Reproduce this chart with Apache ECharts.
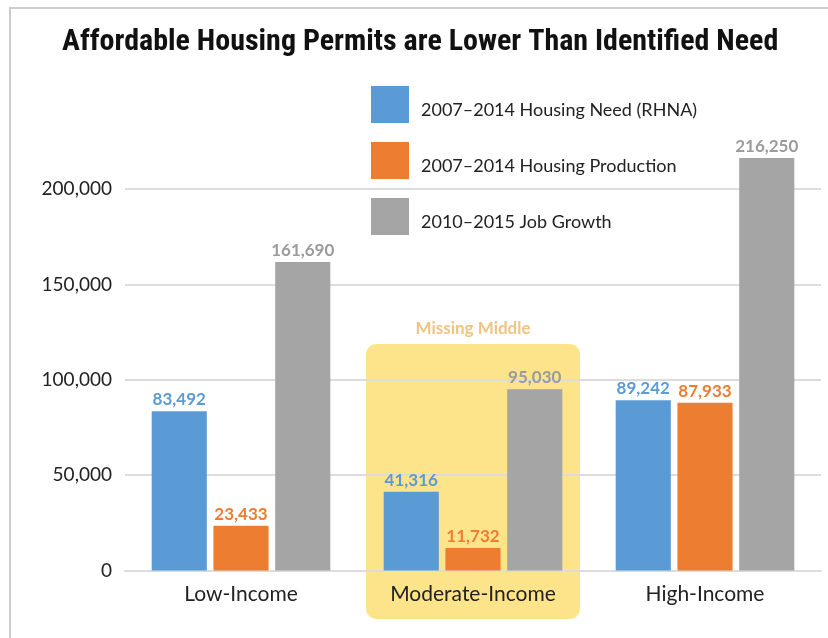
<!DOCTYPE html>
<html>
<head>
<meta charset="utf-8">
<script src="https://cdn.jsdelivr.net/npm/echarts@6/dist/echarts.min.js"></script>
<style>
  html, body { margin: 0; padding: 0; background: #fff; }
  #chart { width: 828px; height: 638px; }
</style>
</head>
<body>
<div id="chart"></div>
<script>
// ── data ──
const categories = ['Low-Income', 'Moderate-Income', 'High-Income']
const seriesNames = ['2007–2014 Housing Need (RHNA)', '2007–2014 Housing Production', '2010–2015 Job Growth']
const housingNeed = [83492, 41316, 89242]
const housingProduction = [23433, 11732, 87933]
const jobGrowth = [161690, 95030, 216250]
const yTicks = [0, 50000, 100000, 150000, 200000]

const colors = ['#5b9bd5', '#ed7d31', '#a5a5a5']
const labelColors = ['#5b9bd5', '#ed7d31', '#9b9b9b']
const font = 'Lato, "Open Sans", sans-serif'

const fmt = (v) => v.toLocaleString('en-US')

const chart = echarts.init(document.getElementById('chart'))

function barSeries(name, data, i) {
  return {
    type: 'bar',
    name,
    data,
    clip: false,
    barGap: '12%',
    barCategoryGap: '23%',
    itemStyle: { color: colors[i] },
    label: {
      show: true,
      position: 'top',
      distance: 3,
      formatter: (p) => fmt(p.value),
      color: labelColors[i],
      fontFamily: font,
      fontWeight: 'bold',
      fontSize: 17,
    },
  }
}

chart.setOption({
  animation: false,
  title: {
    text: 'Affordable Housing Permits are Lower Than Identified Need',
    left: 62,
    top: 27,
    padding: 0,
    textStyle: {
      fontFamily: '"Liberation Sans Narrow", "Roboto Condensed", sans-serif',
      fontWeight: 'bold',
      fontSize: 30,
      color: '#111',
    },
  },
  legend: {
    orient: 'vertical',
    left: 371,
    top: 86,
    padding: 0,
    itemWidth: 38,
    itemHeight: 37,
    itemGap: 19,
    icon: 'rect',
    selectedMode: false,
    data: seriesNames,
    formatter: (n) => '{t|' + n + '}',
    textStyle: {
      padding: [0, 0, 0, 7],
      rich: {
        t: { fontFamily: font, fontSize: 18, color: '#222', padding: [12, 0, 0, 0] },
      },
    },
  },
  grid: { left: 125, right: 7, top: 189, bottom: 67.5 },
  xAxis: {
    type: 'category',
    data: categories,
    axisLine: { lineStyle: { color: '#dcdcdc', width: 2 } },
    axisTick: { show: false },
    axisLabel: { margin: 13, color: '#222', fontFamily: font, fontSize: 21 },
  },
  yAxis: {
    type: 'value',
    min: yTicks[0],
    max: yTicks[yTicks.length - 1],
    interval: yTicks[1] - yTicks[0],
    axisLine: { show: false },
    axisTick: { show: false },
    splitLine: { lineStyle: { color: '#dcdcdc', width: 2 } },
    axisLabel: { margin: 13, color: '#222', fontFamily: font, fontSize: 19, formatter: (v) => fmt(v) },
  },
  series: [
    barSeries(seriesNames[0], housingNeed, 0),
    barSeries(seriesNames[1], housingProduction, 1),
    barSeries(seriesNames[2], jobGrowth, 2),
  ],
})

// ── Missing Middle 背景框 + 边框 ──
const midX = chart.convertToPixel({ xAxisIndex: 0 }, categories[1])
chart.setOption({
  graphic: [
    {
      type: 'rect',
      z: -10,
      shape: { x: 10, y: 8, width: 830, height: 640 },
      style: { fill: 'none', stroke: '#cccccc', lineWidth: 2 },
    },
    {
      type: 'rect',
      z: -10,
      shape: { x: midX - 107, y: 344, width: 214, height: 275, r: 10 },
      style: { fill: '#fde38a' },
    },
    {
      type: 'text',
      z: 10,
      x: midX,
      y: 329,
      style: {
        text: 'Missing Middle',
        fill: '#f0c480',
        font: 'bold 17px ' + font,
        align: 'center',
        verticalAlign: 'middle',
      },
    },
  ],
})
</script>
</body>
</html>
